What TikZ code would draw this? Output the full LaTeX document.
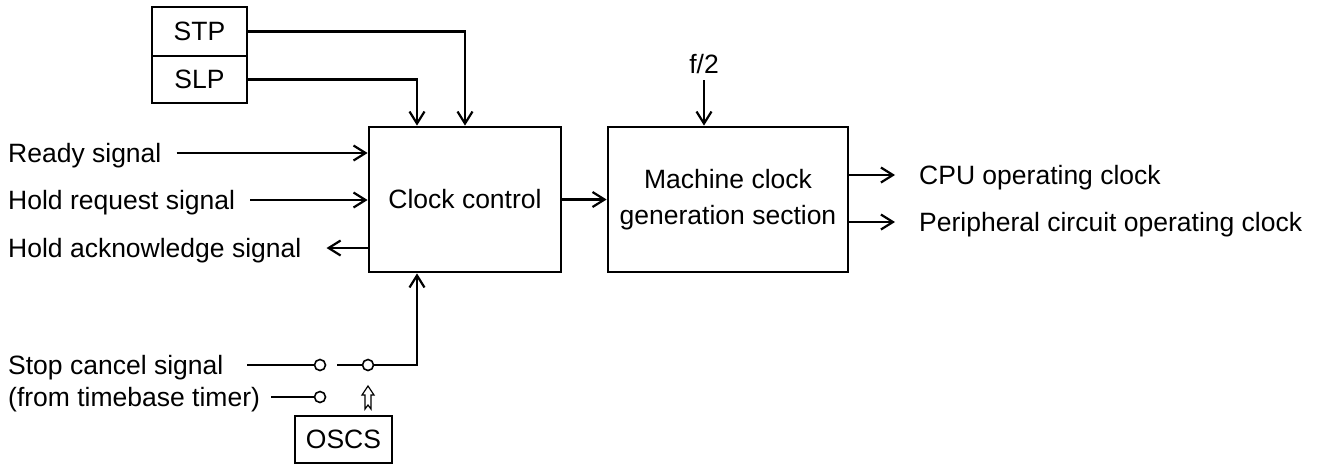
\documentclass[tikz,border=0pt]{standalone}
\usepackage{fontspec}
\setmainfont{Liberation Sans}
\usetikzlibrary{arrows.meta,positioning}

\begin{document}
\begin{tikzpicture}[x=1pt,y=-1pt,font=\fontsize{26.5}{36}\selectfont,
  blk/.style={draw,line width=2.8pt,inner sep=0pt,align=center},
  lbl/.style={inner sep=0pt,text height=19pt,text depth=0pt},
  a/.style={-{Straight Barb[length=12pt,width=15pt]},line width=2.2pt},
  sw/.style={draw,circle,fill=white,line width=1.6pt,minimum size=11pt,inner sep=0pt}]
\useasboundingbox (0,0) rectangle (1319,467);
% blocks
\node[blk,minimum width=95pt,minimum height=49pt] (stp) at (199.5,31.5) {STP};
\node[blk,minimum width=95pt,minimum height=47pt] (slp) at (199.5,79.5) {SLP};
\node[blk,minimum width=192pt,minimum height=145pt] (cc) at (465,199.5) {Clock control};
\node[blk,minimum width=240pt,minimum height=145pt] (mc) at (728,199.5) {Machine clock\\generation section};
\node[blk,minimum width=97pt,minimum height=47pt] (oscs) at (343.5,439.5) {OSCS};
% labels
\node[lbl,anchor=west] (ready) at (8,153) {Ready signal};
\node[lbl,anchor=west] (hreq) at (8,200) {Hold request signal};
\node[lbl,anchor=west] (hack) at (8,248) {Hold acknowledge signal};
\node[lbl,anchor=west] (stop) at (8,365) {Stop cancel signal};
\node[lbl,anchor=west] (tbt) at (8,397) {(from timebase timer)};
\node[lbl,anchor=west] (cpu) at (919,175) {CPU operating clock};
\node[lbl,anchor=west] (per) at (919,222) {Peripheral circuit operating clock};
\node[lbl,anchor=base] (f2) at (704,73) {f/2};
% switch contacts
\node[sw] (s1) at (320,365) {};
\node[sw] (s2) at (368,365) {};
\node[sw] (s3) at (320,397) {};
% connectors
\draw[a] (stp.east) -| (cc.north);
\draw[a] (slp.east) -| ([xshift=-48pt]cc.north);
\draw[a] ([xshift=15pt]ready.east) -- (ready.east -| cc.west);
\draw[a] ([xshift=15pt]hreq.east) -- (hreq.east -| cc.west);
\draw[a] (hack.east -| cc.west) -- ([xshift=25pt]hack.east);
\draw[a] (cc) -- (mc);
\draw[a] ([yshift=-7pt]f2.south) -- (f2.south |- mc.north);
\draw[a] (mc.east |- cpu) -- ([xshift=-24pt]cpu.west);
\draw[a] (mc.east |- per) -- ([xshift=-24pt]per.west);
\draw[line width=2.2pt] ([xshift=24pt]stop.east) -- (s1);
\draw[line width=2.2pt] ([xshift=11pt]s1.east) -- (s2);
\draw[line width=2.2pt] ([xshift=11pt]tbt.east) -- (s3);
\draw[a] (s2) -| ([xshift=-48pt]cc.south);
% hollow arrow from OSCS
\draw[line width=1.2pt,fill=white] (365,409) -- (368,405) -- (371,409) -- (371,395) -- (374,395)
  -- (368,386) -- (362,395) -- (365,395) -- cycle;
\end{tikzpicture}
\end{document}
